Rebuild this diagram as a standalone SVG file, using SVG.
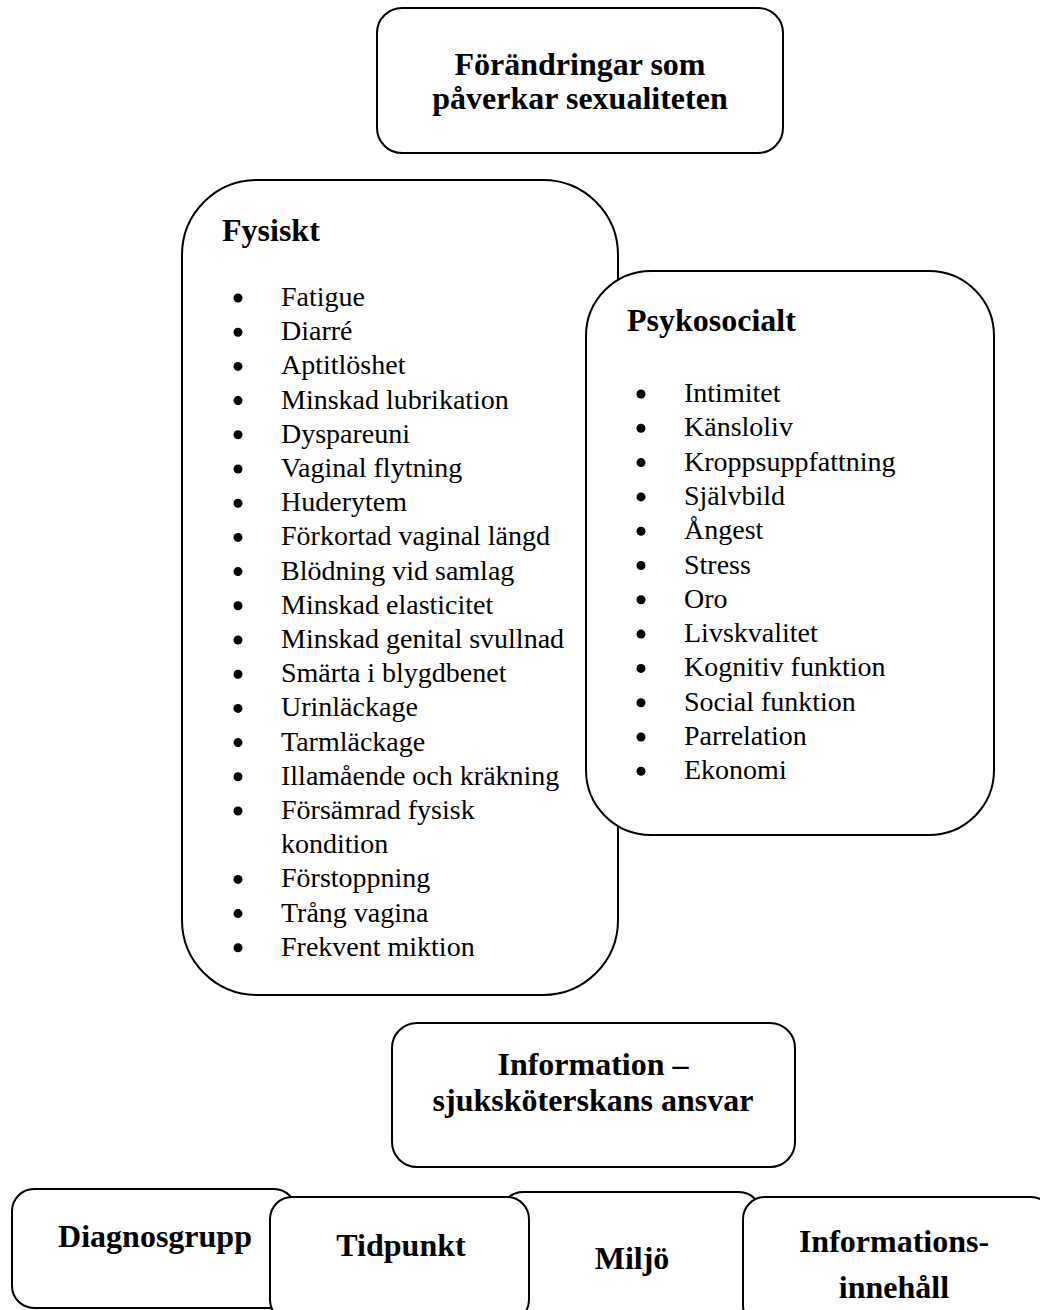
<svg xmlns="http://www.w3.org/2000/svg" width="1040" height="1310" viewBox="0 0 1040 1310">
<style>
.box{fill:#fff;stroke:#000;stroke-width:2}
.t{font-family:"Liberation Serif","Times New Roman",serif;fill:#000}
.b{font-weight:bold;font-size:32px}
.c{text-anchor:middle}
.li{font-size:28px}
.dot{fill:#000}
</style>
<rect width="1040" height="1310" fill="#fff"/>
<g id="connectors"></g>
<g id="node-top">
<rect class="box" x="377" y="8" width="406" height="145" rx="25"/>
<text class="t b c" x="580" y="75">Förändringar som</text>
<text class="t b c" x="580" y="109">påverkar sexualiteten</text>
</g>
<g id="node-fysiskt">
<rect class="box" x="182" y="180" width="436" height="815" rx="75"/>
<text class="t b" x="222" y="241">Fysiskt</text>
<g class="t li">
<text x="281" y="306">Fatigue</text>
<text x="281" y="340.2">Diarré</text>
<text x="281" y="374.4">Aptitlöshet</text>
<text x="281" y="408.6">Minskad lubrikation</text>
<text x="281" y="442.8">Dyspareuni</text>
<text x="281" y="477">Vaginal flytning</text>
<text x="281" y="511.2">Huderytem</text>
<text x="281" y="545.4">Förkortad vaginal längd</text>
<text x="281" y="579.6">Blödning vid samlag</text>
<text x="281" y="613.8">Minskad elasticitet</text>
<text x="281" y="648">Minskad genital svullnad</text>
<text x="281" y="682.2">Smärta i blygdbenet</text>
<text x="281" y="716.4">Urinläckage</text>
<text x="281" y="750.6">Tarmläckage</text>
<text x="281" y="784.8">Illamående och kräkning</text>
<text x="281" y="819">Försämrad fysisk</text>
<text x="281" y="853.2">kondition</text>
<text x="281" y="887.4">Förstoppning</text>
<text x="281" y="921.6">Trång vagina</text>
<text x="281" y="955.8">Frekvent miktion</text>
</g>
<g class="dot">
<circle cx="238" cy="298" r="4.5"/>
<circle cx="238" cy="332.2" r="4.5"/>
<circle cx="238" cy="366.4" r="4.5"/>
<circle cx="238" cy="400.6" r="4.5"/>
<circle cx="238" cy="434.8" r="4.5"/>
<circle cx="238" cy="469" r="4.5"/>
<circle cx="238" cy="503.2" r="4.5"/>
<circle cx="238" cy="537.4" r="4.5"/>
<circle cx="238" cy="571.6" r="4.5"/>
<circle cx="238" cy="605.8" r="4.5"/>
<circle cx="238" cy="640" r="4.5"/>
<circle cx="238" cy="674.2" r="4.5"/>
<circle cx="238" cy="708.4" r="4.5"/>
<circle cx="238" cy="742.6" r="4.5"/>
<circle cx="238" cy="776.8" r="4.5"/>
<circle cx="238" cy="811" r="4.5"/>
<circle cx="238" cy="879.4" r="4.5"/>
<circle cx="238" cy="913.6" r="4.5"/>
<circle cx="238" cy="947.8" r="4.5"/>
</g>
</g>
<g id="node-psykosocialt">
<rect class="box" x="586" y="271" width="408" height="564" rx="65"/>
<text class="t b" x="627" y="331">Psykosocialt</text>
<g class="t li">
<text x="684" y="402">Intimitet</text>
<text x="684" y="436.3">Känsloliv</text>
<text x="684" y="470.6">Kroppsuppfattning</text>
<text x="684" y="504.9">Självbild</text>
<text x="684" y="539.2">Ångest</text>
<text x="684" y="573.5">Stress</text>
<text x="684" y="607.8">Oro</text>
<text x="684" y="642.1">Livskvalitet</text>
<text x="684" y="676.4">Kognitiv funktion</text>
<text x="684" y="710.7">Social funktion</text>
<text x="684" y="745">Parrelation</text>
<text x="684" y="779.3">Ekonomi</text>
</g>
<g class="dot">
<circle cx="641" cy="394" r="4.5"/>
<circle cx="641" cy="428.3" r="4.5"/>
<circle cx="641" cy="462.6" r="4.5"/>
<circle cx="641" cy="496.9" r="4.5"/>
<circle cx="641" cy="531.2" r="4.5"/>
<circle cx="641" cy="565.5" r="4.5"/>
<circle cx="641" cy="599.8" r="4.5"/>
<circle cx="641" cy="634.1" r="4.5"/>
<circle cx="641" cy="668.4" r="4.5"/>
<circle cx="641" cy="702.7" r="4.5"/>
<circle cx="641" cy="737" r="4.5"/>
<circle cx="641" cy="771.3" r="4.5"/>
</g>
</g>
<g id="node-information">
<rect class="box" x="392" y="1023" width="403" height="144" rx="25"/>
<text class="t b c" x="593" y="1075">Information –</text>
<text class="t b c" x="593" y="1111">sjuksköterskans ansvar</text>
</g>
<g id="node-diagnosgrupp">
<rect class="box" x="12" y="1189" width="284" height="119" rx="22"/>
<text class="t b c" x="155" y="1247">Diagnosgrupp</text>
</g>
<g id="node-miljo">
<rect class="box" x="501" y="1192" width="260" height="130" rx="22"/>
<text class="t b c" x="632" y="1269">Miljö</text>
</g>
<g id="node-tidpunkt">
<rect class="box" x="270" y="1197" width="259" height="125" rx="22"/>
<text class="t b c" x="401" y="1256">Tidpunkt</text>
</g>
<g id="node-informationsinnehall">
<rect class="box" x="743" y="1197" width="310" height="130" rx="22"/>
<text class="t b c" x="894" y="1252">Informations-</text>
<text class="t b c" x="894" y="1298">innehåll</text>
</g>
</svg>
